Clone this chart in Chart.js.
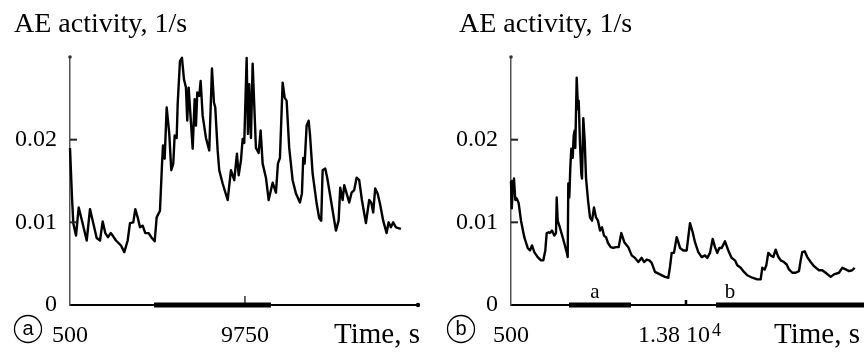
<!DOCTYPE html>
<html><head><meta charset="utf-8">
<script src="https://cdn.jsdelivr.net/npm/chart.js@4"></script>
<style>
html,body{margin:0;padding:0;background:#fff;}
#wrap{position:relative;width:864px;height:356px;overflow:hidden;background:#fff;}
.p{position:absolute;top:0;width:432px;height:356px;}
</style></head><body>
<div id="wrap">
<div class="p" style="left:0"><canvas id="ca" width="432" height="356"></canvas></div>
<div class="p" style="left:432px"><canvas id="cb" width="432" height="356"></canvas></div>
</div>
<script>
// ---------- data ----------
const titleText = 'AE activity, 1/s';
const xAxisTitle = 'Time, s';
const yTicks = [0, 0.01, 0.02];
const yTickLabels = ['0', '0.01', '0.02'];
const yRange = [0, 0.03];

// panel (a)
const timeA = [500, 606, 674, 817, 960, 1134, 1383, 1557, 1700, 1911,
  2086, 2228, 2366, 2509, 2651, 2757, 2931, 3196, 3370, 3550,
  3671, 3846, 3952, 4078, 4200, 4343, 4480, 4660, 4797, 4977,
  5083, 5257, 5363, 5416, 5506, 5611, 5749, 5855, 5960, 6034,
  6140, 6193, 6314, 6420, 6526, 6631, 6700, 6774, 6880, 6986,
  7091, 7160, 7229, 7334, 7408, 7514, 7689, 7863, 8006, 8111,
  8180, 8307, 8391, 8571, 8836, 9010, 9185, 9327, 9417, 9539,
  9629, 9713, 9840, 9909, 9977, 10067, 10157, 10331, 10474, 10580,
  10686, 10860, 11003, 11214, 11389, 11494, 11600, 11743, 11849, 11954,
  12091, 12271, 12446, 12657, 12763, 12832, 12906, 13011, 13117, 13186,
  13329, 13540, 13677, 13783, 13857, 13994, 14100, 14296, 14560, 14703,
  14788, 14914, 15000, 15126, 15263, 15390, 15527, 15654, 15791, 15934,
  16146, 16320, 16426, 16532, 16637, 16764, 16886, 17060, 17240, 17346,
  17467, 17589, 17731, 17996];
const aeA = [0.0190, 0.0130, 0.0099, 0.0084, 0.0118, 0.0102, 0.0078, 0.0116, 0.0102, 0.0081,
  0.0078, 0.0101, 0.0087, 0.0082, 0.0087, 0.0084, 0.0078, 0.0072, 0.0064, 0.0078,
  0.0099, 0.0100, 0.0116, 0.0106, 0.0094, 0.0096, 0.0087, 0.0087, 0.0082, 0.0077,
  0.0106, 0.0114, 0.0169, 0.0193, 0.0177, 0.0239, 0.0207, 0.0163, 0.0171, 0.0205,
  0.0202, 0.0243, 0.0295, 0.0299, 0.0273, 0.0263, 0.0223, 0.0263, 0.0226, 0.0189,
  0.0249, 0.0217, 0.0257, 0.0253, 0.0271, 0.0229, 0.0202, 0.0187, 0.0286, 0.0245,
  0.0239, 0.0187, 0.0163, 0.0147, 0.0127, 0.0163, 0.0151, 0.0183, 0.0157, 0.0175,
  0.0201, 0.0196, 0.0299, 0.0207, 0.0267, 0.0202, 0.0292, 0.0190, 0.0184, 0.0211,
  0.0171, 0.0154, 0.0127, 0.0148, 0.0136, 0.0171, 0.0178, 0.0269, 0.0251, 0.0247,
  0.0190, 0.0151, 0.0135, 0.0124, 0.0135, 0.0178, 0.0171, 0.0217, 0.0223, 0.0207,
  0.0159, 0.0123, 0.0105, 0.0102, 0.0163, 0.0165, 0.0154, 0.0127, 0.0090, 0.0102,
  0.0142, 0.0127, 0.0145, 0.0135, 0.0124, 0.0136, 0.0139, 0.0154, 0.0151, 0.0127,
  0.0099, 0.0127, 0.0124, 0.0112, 0.0141, 0.0135, 0.0123, 0.0102, 0.0087, 0.0100,
  0.0094, 0.0100, 0.0094, 0.0092];
const xRangeA = [500, 18900];
const xTicksA = [500, 9750];
const xTickLabelsA = ['500', '9750'];
const barsA = [[4940, 11125]];
const barLabelsA = [];
const barLabelTimesA = [];

// panel (b)
const timeB = [500, 560, 620, 728, 827, 933, 1085, 1260, 1511, 1769,
  1944, 2096, 2271, 2529, 2780, 2955, 3107, 3213, 3365, 3464,
  3616, 3791, 3920, 3973, 4049, 4171, 4429, 4733, 4809, 4855,
  4931, 5007, 5083, 5189, 5265, 5341, 5387, 5493, 5592, 5645,
  5744, 5843, 5896, 5995, 6101, 6200, 6352, 6504, 6656, 6808,
  6960, 7112, 7264, 7416, 7568, 7720, 7872, 8077, 8275, 8480,
  8685, 8883, 9111, 9415, 9673, 9924, 10175, 10433, 10608, 10813,
  11011, 11193, 11444, 11824, 12204, 12455, 12584, 12713, 12888, 13093,
  13215, 13344, 13595, 13853, 14104, 14309, 14484, 14735, 14993, 15244,
  15419, 15624, 15829, 16004, 16179, 16331, 16513, 16764, 17015, 17273,
  17524, 17699, 17957, 18208, 18459, 18839, 19219, 19477, 19599, 19781,
  19903, 20055, 20237, 20435, 20617, 20792, 20997, 21248, 21453, 21628,
  21879, 22137, 22388, 22517, 22639, 22821, 23019, 23277, 23528, 23908,
  24159, 24417, 24797, 25048, 25428, 25679, 25937, 26188, 26439, 26621];
const aeB = [0.0150, 0.0117, 0.0136, 0.0153, 0.0127, 0.0129, 0.0123, 0.0102, 0.0082, 0.0069,
  0.0066, 0.0072, 0.0064, 0.0058, 0.0054, 0.0054, 0.0066, 0.0087, 0.0088, 0.0087,
  0.0090, 0.0084, 0.0087, 0.0130, 0.0102, 0.0096, 0.0082, 0.0064, 0.0058, 0.0147,
  0.0130, 0.0166, 0.0189, 0.0178, 0.0205, 0.0211, 0.0190, 0.0275, 0.0237, 0.0247,
  0.0195, 0.0159, 0.0153, 0.0226, 0.0199, 0.0154, 0.0127, 0.0106, 0.0102, 0.0118,
  0.0106, 0.0102, 0.0090, 0.0094, 0.0084, 0.0082, 0.0075, 0.0070, 0.0069, 0.0070,
  0.0070, 0.0087, 0.0076, 0.0070, 0.0060, 0.0057, 0.0052, 0.0057, 0.0052, 0.0055,
  0.0054, 0.0051, 0.0040, 0.0037, 0.0034, 0.0033, 0.0046, 0.0063, 0.0063, 0.0082,
  0.0076, 0.0069, 0.0066, 0.0066, 0.0099, 0.0088, 0.0076, 0.0064, 0.0058, 0.0060,
  0.0057, 0.0063, 0.0080, 0.0070, 0.0063, 0.0069, 0.0069, 0.0077, 0.0066, 0.0057,
  0.0054, 0.0048, 0.0045, 0.0040, 0.0036, 0.0033, 0.0031, 0.0031, 0.0045, 0.0043,
  0.0048, 0.0063, 0.0060, 0.0058, 0.0067, 0.0059, 0.0054, 0.0052, 0.0049, 0.0043,
  0.0039, 0.0039, 0.0041, 0.0054, 0.0064, 0.0065, 0.0058, 0.0052, 0.0047, 0.0042,
  0.0042, 0.0039, 0.0034, 0.0037, 0.0039, 0.0045, 0.0043, 0.0041, 0.0042, 0.0045];
const xRangeB = [500, 27330];
const xTicksB = [500, 13800];
const xTickLabelsB = ['500', '1.38 10|4'];
const barsB = [[4908, 9620], [16080, 27330]];
const barLabelsB = ['a', 'b'];
const barLabelTimesB = [6884, 17144];

// ---------- drawing ----------
const SERIF = '"Liberation Serif", "Times New Roman", serif';
const SANS = '"Liberation Sans", Arial, sans-serif';

function makePanel(id, p) {
  const decor = {
    id: 'decor' + id,
    afterDraw(chart) {
      const {ctx, chartArea: ca, scales: {x, y}} = chart;
      ctx.save();
      // inner y tick marks
      ctx.strokeStyle = '#222';
      ctx.lineWidth = 2;
      yTicks.forEach(v => {
        if (v === yRange[0]) return;
        const py = y.getPixelForValue(v);
        ctx.beginPath(); ctx.moveTo(ca.left, py); ctx.lineTo(ca.left + 7, py); ctx.stroke();
      });
      // axis end dots
      ctx.fillStyle = '#333';
      ctx.beginPath(); ctx.arc(ca.left, ca.top, 1.8, 0, 2 * Math.PI); ctx.fill();
      if (p.arrowDot) {
        ctx.fillStyle = '#000';
        ctx.beginPath(); ctx.arc(ca.right, ca.bottom, 2.2, 0, 2 * Math.PI); ctx.fill();
      }
      // x tick marks (upward)
      ctx.strokeStyle = '#000';
      p.xTicks.forEach(v => {
        if (v === p.xRange[0]) return;
        const px = x.getPixelForValue(v);
        ctx.lineWidth = p.xTickWidth;
        ctx.beginPath(); ctx.moveTo(px, ca.bottom); ctx.lineTo(px, ca.bottom - p.xTickLen); ctx.stroke();
      });
      ctx.fillStyle = '#000';
      // special tick labels with superscript
      p.xTicks.forEach((v, i) => {
        const lab = p.xTickLabels[i];
        if (lab.indexOf('|') < 0) return;
        const [main, sup] = lab.split('|');
        const px = x.getPixelForValue(v);
        ctx.font = '24px ' + SERIF;
        ctx.textAlign = 'right'; ctx.textBaseline = 'alphabetic';
        ctx.fillText(main, px + 24, 342);
        ctx.font = '18px ' + SERIF;
        ctx.textAlign = 'left';
        ctx.fillText(sup, px + 26, 336);
      });
      // title
      ctx.font = '28px ' + SERIF;
      ctx.textAlign = 'left'; ctx.textBaseline = 'alphabetic';
      ctx.fillText(titleText, p.titleX, 32);
      // axis title
      ctx.font = '29px ' + SERIF;
      ctx.textAlign = 'right';
      ctx.fillText(xAxisTitle, p.timeRight, 343);
      // circled panel letter
      ctx.strokeStyle = '#000'; ctx.lineWidth = 1.3;
      ctx.beginPath(); ctx.arc(p.circleX, 329, 13.5, 0, 2 * Math.PI); ctx.stroke();
      ctx.font = '20px ' + SANS;
      ctx.textAlign = 'center'; ctx.textBaseline = 'middle';
      ctx.fillText(p.letter, p.circleX, 329);
      // bar labels
      ctx.font = '21px ' + SERIF;
      ctx.textAlign = 'center'; ctx.textBaseline = 'alphabetic';
      p.barLabels.forEach((lab, i) => {
        ctx.fillText(lab, x.getPixelForValue(p.barLabelTimes[i]), 298);
      });
      ctx.restore();
    }
  };

  const datasets = [{
    data: p.times.map((t, i) => ({x: t, y: p.values[i]})),
    borderColor: '#000', borderWidth: 2.4, pointRadius: 0, tension: 0,
    clip: false, borderJoinStyle: 'round', fill: false
  }];
  p.bars.forEach(b => datasets.push({
    data: [{x: b[0], y: 0}, {x: b[1], y: 0}],
    borderColor: '#000', borderWidth: 5, pointRadius: 0, clip: false,
    borderCapStyle: 'butt', fill: false
  }));

  return new Chart(document.getElementById(id), {
    type: 'line',
    data: {datasets},
    options: {
      responsive: false, animation: false, devicePixelRatio: 1,
      layout: {padding: {left: 0, right: p.padRight, top: 57, bottom: 0}},
      plugins: {legend: {display: false}, tooltip: {enabled: false}, title: {display: false}},
      scales: {
        x: {
          type: 'linear', min: p.xRange[0], max: p.xRange[1],
          grid: {display: false, drawTicks: false},
          border: {display: true, color: '#000', width: 2},
          afterBuildTicks: s => { s.ticks = p.xTicks.map(v => ({value: v})); },
          afterFit: s => { s.height = 51; },
          ticks: {
            padding: 16, maxRotation: 0, minRotation: 0, autoSkip: false, color: '#000',
            font: {family: SERIF, size: 24},
            callback: (v, i) => (p.xTickLabels[i].indexOf('|') >= 0 ? '' : p.xTickLabels[i])
          }
        },
        y: {
          type: 'linear', min: yRange[0], max: yRange[1],
          grid: {display: false, drawTicks: false},
          border: {display: true, color: '#555', width: 1.5},
          afterBuildTicks: s => { s.ticks = yTicks.map(v => ({value: v})); },
          afterFit: s => { s.width = p.axisLeft; },
          ticks: {
            padding: 13, color: '#000', font: {family: SERIF, size: 24},
            callback: (v, i) => yTickLabels[i]
          }
        }
      }
    },
    plugins: [decor]
  });
}

makePanel('ca', {
  times: timeA, values: aeA, xRange: xRangeA, xTicks: xTicksA, xTickLabels: xTickLabelsA,
  bars: barsA, barLabels: barLabelsA, barLabelTimes: barLabelTimesA,
  axisLeft: 70, padRight: 14, arrowDot: true, xTickLen: 9, xTickWidth: 1.2,
  titleX: 14, timeRight: 420, circleX: 28, letter: 'a'
});
makePanel('cb', {
  times: timeB, values: aeB, xRange: xRangeB, xTicks: xTicksB, xTickLabels: xTickLabelsB,
  bars: barsB, barLabels: barLabelsB, barLabelTimes: barLabelTimesB,
  axisLeft: 79, padRight: 0, arrowDot: false, xTickLen: 5, xTickWidth: 2.5,
  titleX: 27, timeRight: 428, circleX: 29, letter: 'b'
});
</script>
</body></html>
